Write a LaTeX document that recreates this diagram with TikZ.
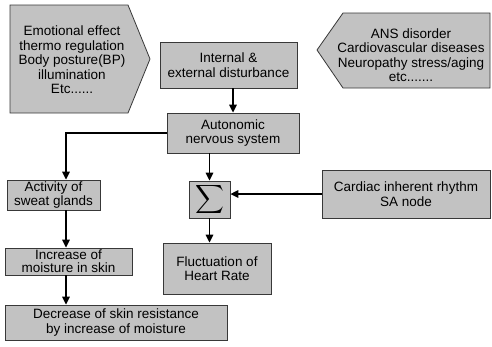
\documentclass[tikz,border=0pt]{standalone}
\usepackage{fontspec}
\setmainfont{Liberation Sans}
\usepackage{graphicx}
\usetikzlibrary{positioning, arrows.meta}
\definecolor{boxgray}{HTML}{C2C2C2}
\definecolor{edgegray}{HTML}{383838}

\begin{document}
\begin{tikzpicture}[x=1pt,y=-1pt,
  box/.style={draw=edgegray,fill=boxgray,line width=0.8pt,align=center,inner sep=0pt,font=\fontsize{13.5}{14.5}\selectfont},
  txt/.style={align=center,inner sep=0pt,font=\fontsize{13.5}{14.5}\selectfont},
  arr/.style={-{Triangle[length=8pt,width=7.5pt]},line width=1.6pt}]
  \useasboundingbox(0,0)rectangle(492,346);
  % influences
  \draw[draw=edgegray,fill=boxgray,line width=0.8pt](10,5)--(128,5)--(150,59)--(128,113)--(10,113)--cycle;
  \node[txt](factors)at(72,60){Emotional effect\\thermo regulation\\Body posture(BP)\\illumination\\Etc......};
  \draw[draw=edgegray,fill=boxgray,line width=0.8pt](317,50)--(343,13)--(490,13)--(490,88)--(343,88)--cycle;
  \node[txt](disorders)at(411,55){ANS disorder\\Cardiovascular diseases\\Neuropathy stress/aging\\etc.......};
  % chain
  \node[box,minimum width=137pt,minimum height=46pt](dist)at(228.5,65){Internal \&\\external disturbance};
  \node[box,minimum width=132pt,minimum height=40pt](ans)at(233,133){Autonomic\\nervous system};
  \node[box,minimum width=93pt,minimum height=30pt](sweat)at(53.5,195){Activity of\\sweat glands};
  \node[box,minimum width=127pt,minimum height=27pt,font=\fontsize{13.5}{13}\selectfont](moist)at(68.5,261.5){Increase of\\moisture in skin};
  \node[box,minimum width=222pt,minimum height=35pt](resist)at(116,322.5){Decrease of skin resistance\\by increase of moisture};
  \node[box,minimum width=41pt,minimum height=37pt](sum)at(209.5,199.5){\scalebox{2}{$\displaystyle\sum$}};
  \node[box,minimum width=108pt,minimum height=51pt](hr)at(217,268.5){Fluctuation of\\Heart Rate};
  \node[box,minimum width=168pt,minimum height=48pt](sa)at(406,194){Cardiac inherent rhythm\\SA node};
  \coordinate(lane)at(66,0);
  \draw[arr](dist.south-|ans.north)--(ans.north);
  \draw[arr](ans.west)-|(sweat.north-|lane);
  \draw[arr](sweat.south-|lane)--(moist.north-|lane);
  \draw[arr](moist.south-|lane)--(resist.north-|lane);
  \draw[arr](ans.south-|sum.north)--(sum.north);
  \draw[arr](sa.west)--(sa.west-|sum.east);
  \draw[arr](sum.south)--(sum.south|-hr.north);
\end{tikzpicture}
\end{document}
